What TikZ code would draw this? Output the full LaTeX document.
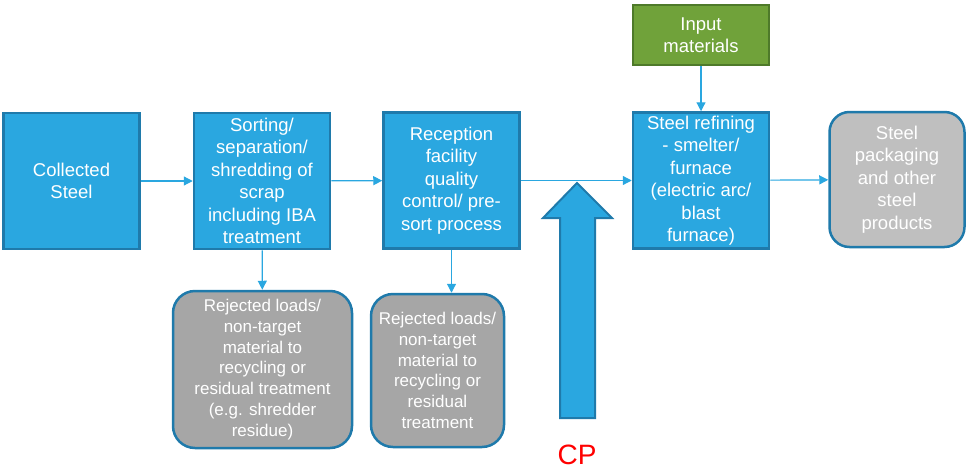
\documentclass[tikz,border=0pt]{standalone}
\usepackage{fontspec}
\setmainfont{Liberation Sans}
\usetikzlibrary{arrows.meta}

\definecolor{boxblue}{HTML}{2AA7E0}
\definecolor{edgeblue}{HTML}{1F7AAB}
\definecolor{inputgreen}{HTML}{70A23A}
\definecolor{inputedge}{HTML}{4E7A2A}
\definecolor{outgrey}{HTML}{BFBFBF}
\definecolor{rejgrey}{HTML}{A6A6A6}
\definecolor{cpred}{HTML}{FF0000}

\tikzset{
  stage/.style={rectangle, draw=edgeblue, fill=boxblue, line width=2.5pt, text=white,
    align=center, inner sep=0pt, minimum width=136pt, minimum height=136pt,
    font=\fontsize{18.5}{22.5}\selectfont},
  reject/.style={rectangle, rounded corners=22pt, draw=edgeblue, fill=rejgrey, line width=2.5pt,
    text=white, align=center, inner sep=0pt, font=\fontsize{17}{20.8}\selectfont},
  flow/.style={draw=boxblue, line width=1.2pt, -{Triangle[length=9pt,width=9pt]}}
}

\begin{document}
\begin{tikzpicture}[x=1pt, y=-1pt]
      \useasboundingbox (0,0) rectangle (968,471);
      \node (collected) at (71.5,181) [stage] {Collected\\Steel};
      \node (sorting) at (262,181) [stage] {Sorting/\\separation/\\shredding of\\scrap\\including IBA\\treatment};
      \node (reception) at (451.5,180.5) [stage] {Reception\\facility\\quality\\control/ pre-\\sort process};
      \node (refining) at (701,180.5) [stage] {Steel refining\\- smelter/\\furnace\\(electric arc/\\blast\\furnace)};
      \node (input) at (701,35) [stage, draw=inputedge, fill=inputgreen, minimum height=60pt] {Input\\materials};
      \node (packaging) at (897,179.5) [reject, fill=outgrey, rounded corners=20pt, minimum width=135pt, minimum height=135pt,
        font=\fontsize{18.5}{22.5}\selectfont] {Steel\\packaging\\and other\\steel\\products};
      \node (reject1) at (262.5,369.5) [reject, minimum width=179pt, minimum height=157pt] {Rejected loads/\\non-target\\material to\\recycling or\\residual treatment\\(e.g. shredder\\residue)};
      \node (reject2) at (437.5,370.5) [reject, minimum width=133pt, minimum height=153pt] {Rejected loads/\\non-target\\material to\\recycling or\\residual\\treatment};
      \foreach \source/\dest in {collected/sorting, sorting/reception, reception/refining, refining/packaging, input/refining, sorting/reject1}
        \path (\source) edge[flow] (\dest);
      \path (reception) edge[flow] (reception |- reject2.north);
      % control point arrow
      \draw[draw=edgeblue, fill=boxblue, line width=2pt] (560,418) -- (560,218) -- (543,218) -- (577,183)
        -- (612,218) -- (595,218) -- (595,418) -- cycle;
      \node (cp) at (577,455) [text=cpred, font=\fontsize{28}{30}\selectfont] {CP};
    \end{tikzpicture}
\end{document}
